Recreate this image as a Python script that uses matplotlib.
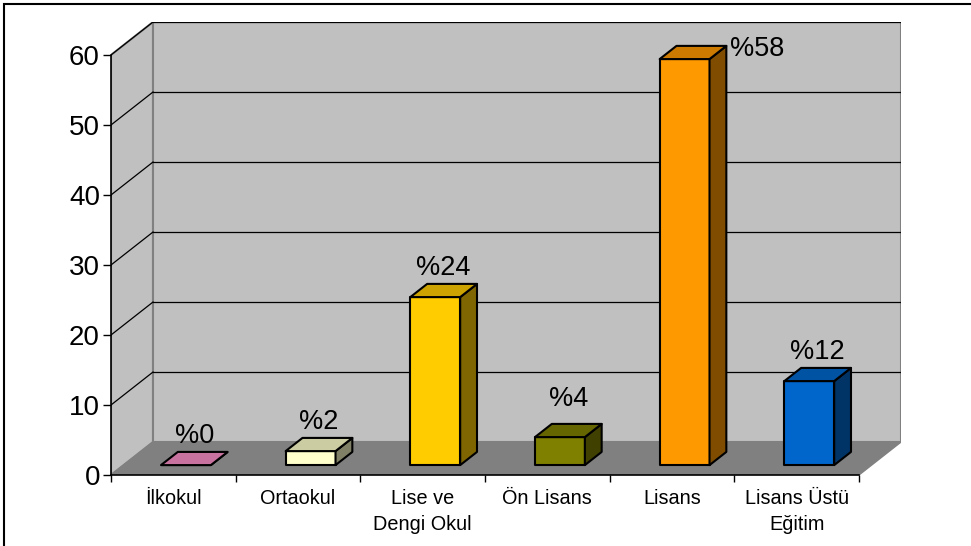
import matplotlib.pyplot as plt
from matplotlib.patches import Polygon, Rectangle
import matplotlib.colors as mcolors
import numpy as np

plt.rcParams['font.family'] = ['Liberation Sans', 'DejaVu Sans']

categories = ['İlkokul', 'Ortaokul', 'Lise ve\nDengi Okul', 'Ön Lisans', 'Lisans', 'Lisans Üstü\nEğitim']
values = [0, 2, 24, 4, 58, 12]
value_labels = ['%0', '%2', '%24', '%4', '%58', '%12']
bar_colors = ['#F59BC8', '#FFFFCC', '#FFCC00', '#808000', '#FF9900', '#0066CC']
y_ticks = [0, 10, 20, 30, 40, 50, 60]

# 3d depth of the floor, in data units (x: categories, y: value)
DX = 0.337
DY = 4.71
YMAX = 60
N = len(categories)


def shade(c, f):
    r, g, b = mcolors.to_rgb(c)
    return (r * f, g * f, b * f)


fig = plt.figure(figsize=(9.71, 5.46), dpi=100)
W, H = 971, 546
ax = fig.add_axes([111 / W, (H - 475) / H, (901 - 111) / W, (475 - 22) / H])
ax.set_xlim(0, N + DX)
ax.set_ylim(0, YMAX + DY)

# walls and floor
wall = '#C0C0C0'
edge = '#808080'
ax.add_patch(Polygon([(0, 0), (DX, DY), (DX, YMAX + DY), (0, YMAX)],
                     facecolor=wall, edgecolor=edge, lw=1.5, zorder=1))
ax.add_patch(Polygon([(DX, DY), (N + DX, DY), (N + DX, YMAX + DY), (DX, YMAX + DY)],
                     facecolor=wall, edgecolor=edge, lw=1.5, zorder=1))
ax.add_patch(Polygon([(0, 0), (N, 0), (N + DX, DY), (DX, DY)],
                     facecolor='#808080', edgecolor=edge, lw=1, zorder=2))

# gridlines
for v in y_ticks[1:]:
    ax.plot([0, DX], [v, v + DY], color='black', lw=0.9, zorder=2)
    ax.plot([DX, N + DX], [v + DY, v + DY], color='black', lw=0.9, zorder=2)

# bars
bw = 0.4
f0, f1 = 0.3, 0.7
bdx, bdy = (f1 - f0) * DX, (f1 - f0) * DY
for i, (v, c, lab) in enumerate(zip(values, bar_colors, value_labels)):
    x0 = i + 0.5 - bw / 2 + f0 * DX
    x1 = x0 + bw
    y0 = f0 * DY
    y1 = y0 + v
    kw = dict(edgecolor='black', lw=1.5, joinstyle='round', zorder=5)
    ax.add_patch(Polygon([(x0, y0), (x1, y0), (x1, y1), (x0, y1)], facecolor=c, **kw))
    ax.add_patch(Polygon([(x1, y0), (x1 + bdx, y0 + bdy), (x1 + bdx, y1 + bdy), (x1, y1)],
                         facecolor=shade(c, 0.5), **kw))
    ax.add_patch(Polygon([(x0, y1), (x1, y1), (x1 + bdx, y1 + bdy), (x0 + bdx, y1 + bdy)],
                         facecolor=shade(c, 0.8) if v > 0 else '#C8739F', **kw))
    if y1 + 7 > YMAX + DY:
        ax.text(x1 + bdx + 0.03, y1 + bdy - 0.5, lab, ha='left', va='center',
                fontsize=19.5, zorder=6)
    else:
        lift = 1.3 if i == 3 else 0
        ax.text((x0 + x1) / 2 + bdx / 2, y1 + 2.3 + lift, lab, ha='center', va='bottom',
                fontsize=19.5, zorder=6)

# axes
for s in ['top', 'right']:
    ax.spines[s].set_visible(False)
ax.spines['left'].set_bounds(0, YMAX)
ax.spines['bottom'].set_bounds(0, N)
ax.spines['left'].set_linewidth(1.2)
ax.spines['bottom'].set_linewidth(1.2)
ax.spines['left'].set_zorder(4)
ax.spines['bottom'].set_zorder(4)
ax.set_yticks(y_ticks)
ax.set_yticklabels([str(t) for t in y_ticks], fontsize=20)
ax.tick_params(axis='y', length=6, width=1, pad=2)
ax.set_xticks(np.arange(N + 1))
ax.set_xticklabels([])
ax.tick_params(axis='x', which='major', length=5, width=1)
ax.set_xticks(np.arange(N) + 0.5, minor=True)
ax.set_xticklabels(categories, minor=True, fontsize=14.3, linespacing=1.45)
ax.tick_params(axis='x', which='minor', length=0, pad=10)
ax.patch.set_alpha(0)

# chart border
fig.add_artist(Rectangle((4 / W, -0.1), 1.2, 1.1 - 4 / H, transform=fig.transFigure,
                         fill=False, edgecolor='black', lw=1.5))

fig.savefig('out.png', dpi=100)
